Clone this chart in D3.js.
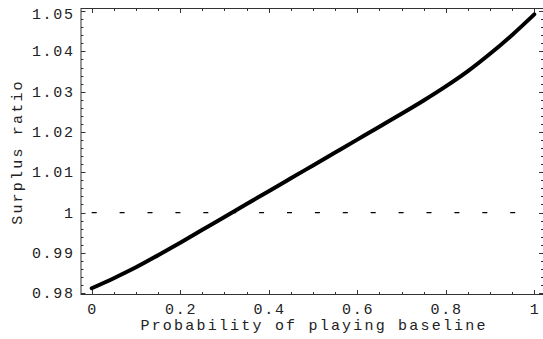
<!DOCTYPE html>
<html>
<head>
<meta charset="utf-8">
<script src="https://cdn.jsdelivr.net/npm/d3@7"></script>
<style>
  html, body { margin: 0; padding: 0; background: #fff; }
  svg { display: block; }
  text { font-family: "Liberation Mono", "DejaVu Sans Mono", monospace; fill: #222; }
</style>
</head>
<body>
<svg id="chart" width="543" height="339"></svg>
<script>
// Data
const probability = [0, 0.05, 0.1, 0.15, 0.2, 0.25, 0.3, 0.35, 0.4, 0.45, 0.5, 0.55, 0.6, 0.65, 0.7, 0.75, 0.8, 0.85, 0.9, 0.95, 1.0];
const surplusRatio = [0.9812, 0.9837, 0.9864, 0.9894, 0.9925, 0.9957, 0.9989, 1.0021, 1.0053, 1.0085, 1.0117, 1.0149, 1.0181, 1.0213, 1.0245, 1.0278, 1.0313, 1.0351, 1.0394, 1.0441, 1.0492];
const referenceLevel = 1;
const xTickValues = [0, 0.2, 0.4, 0.6, 0.8, 1];
const xTickLabels = ["0", "0.2", "0.4", "0.6", "0.8", "1"];
const yTickValues = [0.98, 0.99, 1.00, 1.01, 1.02, 1.03, 1.04, 1.05];
const yTickLabels = ["0.98", "0.99", "1", "1.01", "1.02", "1.03", "1.04", "1.05"];
const xLabel = "Probability of playing baseline";
const yLabel = "Surplus ratio";

const svg = d3.select("#chart");
const frameL = 81, frameR = 543.5, frameT = 8.5, frameB = 294.5;

const x = d3.scaleLinear().domain([0, 1]).range([91.7, 534.3]);
const y = d3.scaleLinear().domain([0.9797, 1.0507]).range([294.3, 8.3]);

const frameColor = "#333";

// frame (left, top, bottom; right edge sits just outside the image)
svg.append("rect")
  .attr("x", frameL).attr("y", frameT)
  .attr("width", frameR - frameL).attr("height", frameB - frameT)
  .attr("fill", "none").attr("stroke", frameColor).attr("stroke-width", 1);

// minor ticks
const xMinor = d3.range(0, 1.0001, 0.05);
const yMinor = d3.range(0.98, 1.0501, 0.002);

const g = svg.append("g").attr("stroke", frameColor).attr("stroke-width", 1);

xMinor.forEach(v => {
  const isMajor = xTickValues.some(t => Math.abs(t - v) < 1e-6);
  const len = isMajor ? 4.5 : 2.5;
  const px = Math.round(x(v)) + 0.5;
  g.append("line").attr("x1", px).attr("x2", px).attr("y1", frameB).attr("y2", frameB - len);
  g.append("line").attr("x1", px).attr("x2", px).attr("y1", frameT).attr("y2", frameT + len);
});
yMinor.forEach(v => {
  const isMajor = yTickValues.some(t => Math.abs(t - v) < 1e-6);
  const len = isMajor ? 4.5 : 2.5;
  const py = Math.round(y(v)) + 0.5;
  g.append("line").attr("x1", frameL).attr("x2", frameL + len).attr("y1", py).attr("y2", py);
  g.append("line").attr("x1", frameR).attr("x2", frameR - len).attr("y1", py).attr("y2", py);
});

// tick labels
const fontSize = 15;
const ls = 1.7;
const lsTitle = 2.2;
svg.append("g").selectAll("text").data(xTickValues).join("text")
  .attr("x", d => x(d) + ls / 2)
  .attr("y", 313.5)
  .attr("text-anchor", "middle")
  .attr("font-size", fontSize)
  .attr("letter-spacing", ls)
  .text((d, i) => xTickLabels[i]);

svg.append("g").selectAll("text").data(yTickValues).join("text")
  .attr("x", 73 + ls)
  .attr("y", d => Math.max(y(d), 14) + 5)
  .attr("text-anchor", "end")
  .attr("font-size", fontSize)
  .attr("letter-spacing", ls)
  .text((d, i) => yTickLabels[i]);

// axis titles
svg.append("text")
  .attr("x", 313 + lsTitle / 2).attr("y", 329.5)
  .attr("text-anchor", "middle")
  .attr("font-size", fontSize)
  .attr("letter-spacing", lsTitle)
  .text(xLabel);

svg.append("text")
  .attr("transform", `translate(22,${152}) rotate(-90)`)
  .attr("text-anchor", "middle")
  .attr("font-size", fontSize)
  .attr("letter-spacing", lsTitle)
  .text(yLabel);

// reference dashed line at 1
svg.append("line")
  .attr("x1", x(0)).attr("x2", x(1))
  .attr("y1", y(referenceLevel)).attr("y2", y(referenceLevel))
  .attr("stroke", "#000").attr("stroke-width", 1.2)
  .attr("stroke-dasharray", "5,22.9");

// curve
const data = probability.map((p, i) => [p, surplusRatio[i]]);
svg.append("path")
  .datum(data)
  .attr("d", d3.line().x(d => x(d[0])).y(d => y(d[1])).curve(d3.curveCatmullRom))
  .attr("fill", "none")
  .attr("stroke", "#000")
  .attr("stroke-width", 4)
  .attr("stroke-linecap", "round");
</script>
</body>
</html>
